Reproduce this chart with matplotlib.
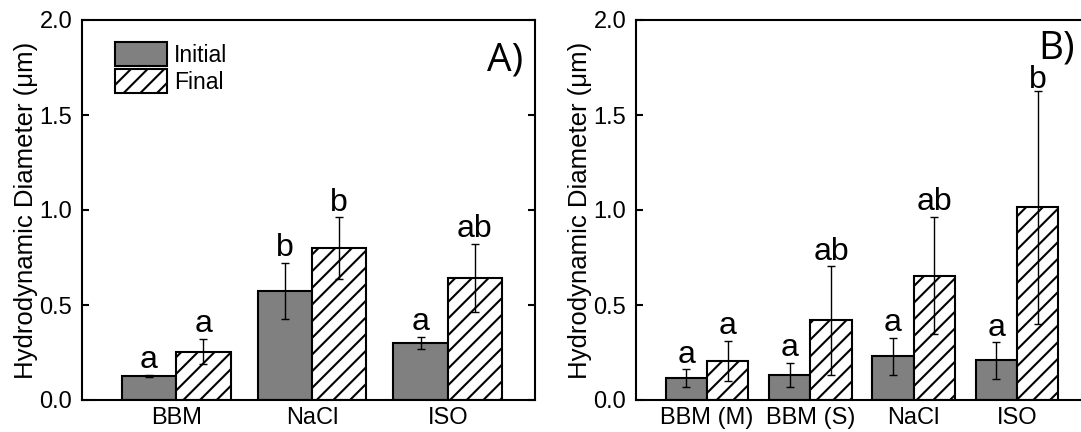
import matplotlib
matplotlib.use('Agg')
import matplotlib.pyplot as plt
import numpy as np

plt.rcParams['font.family'] = 'Liberation Sans'
plt.rcParams['hatch.linewidth'] = 1.5

# Panel A data
groups_a = ['BBM', 'NaCl', 'ISO']
initial_a = [0.127, 0.573, 0.300]
initial_err_a = [0.004, 0.148, 0.033]
final_a = [0.255, 0.800, 0.643]
final_err_a = [0.068, 0.162, 0.178]
letters_init_a = ['a', 'b', 'a']
letters_final_a = ['a', 'b', 'ab']

# Panel B data
groups_b = ['BBM (M)', 'BBM (S)', 'NaCl', 'ISO']
initial_b = [0.115, 0.130, 0.229, 0.208]
initial_err_b = [0.047, 0.064, 0.099, 0.096]
final_b = [0.205, 0.419, 0.655, 1.015]
final_err_b = [0.105, 0.285, 0.310, 0.613]
letters_init_b = ['a', 'a', 'a', 'a']
letters_final_b = ['a', 'ab', 'ab', 'b']

W = 0.4


def draw_panel(ax, groups, init, init_err, final, final_err, let_i, let_f,
               letter_max=2.0):
    x = np.arange(len(groups))
    err_kw = dict(elinewidth=1, capsize=2.8, capthick=1, ecolor='black')
    b1 = ax.bar(x - W / 2, init, W, yerr=init_err, color='#808080',
                edgecolor='black', linewidth=1.5, error_kw=err_kw, label='Initial')
    b2 = ax.bar(x + W / 2, final, W, yerr=final_err, color='white',
                edgecolor='black', linewidth=1.5, hatch='//', error_kw=err_kw,
                label='Final')
    # significance letters just above the error bars
    for i in range(len(groups)):
        yi = min(init[i] + init_err[i] + 0.035, letter_max)
        yf = min(final[i] + final_err[i] + 0.035, letter_max)
        ax.text(x[i] - W / 2, yi, let_i[i], ha='center', va='baseline', fontsize=23)
        ax.text(x[i] + W / 2, yf, let_f[i], ha='center', va='baseline', fontsize=23)

    ax.set_ylim(0, 2.0)
    ax.set_yticks([0.0, 0.5, 1.0, 1.5, 2.0])
    ax.set_yticklabels(['0.0', '0.5', '1.0', '1.5', '2.0'])
    ax.set_xticks(x)
    ax.set_xticklabels(groups)
    ax.tick_params(axis='y', direction='in', length=5, width=1.5,
                   labelsize=17, pad=7, right=True)
    ax.tick_params(axis='x', length=0, labelsize=17, pad=5)
    ax.set_ylabel('Hydrodynamic Diameter (\u03bcm)', fontsize=18.5, labelpad=1)
    for s in ax.spines.values():
        s.set_linewidth(1.5)
    return b1, b2


fig = plt.figure(figsize=(10.81, 4.32), dpi=100)

ax1 = fig.add_axes([82 / 1081, 32 / 432, 453 / 1081, 380 / 432])
b1, b2 = draw_panel(ax1, groups_a, initial_a, initial_err_a, final_a, final_err_a,
                    letters_init_a, letters_final_a)
ax1.set_xlim(-0.694, 2.643)
ax1.legend(handles=[b1, b2], loc='upper left', bbox_to_anchor=(0.052, 0.965),
           frameon=False, fontsize=16.5, handlelength=2.3, handleheight=1.2,
           handletextpad=0.3, labelspacing=0.1, borderaxespad=0)
ax1.text(0.974, 0.868, 'A)', transform=ax1.transAxes, ha='right', va='baseline',
         fontsize=28, family='Open Sans')

ax2 = fig.add_axes([636 / 1081, 32 / 432, 453 / 1081, 380 / 432])
draw_panel(ax2, groups_b, initial_b, initial_err_b, final_b, final_err_b,
           letters_init_b, letters_final_b, letter_max=1.64)
ax2.set_xlim(-0.687, 3.698)
ax2.text(0.969, 0.898, 'B)', transform=ax2.transAxes, ha='right', va='baseline',
         fontsize=28, family='Open Sans')

fig.savefig('out.png', dpi=100)
